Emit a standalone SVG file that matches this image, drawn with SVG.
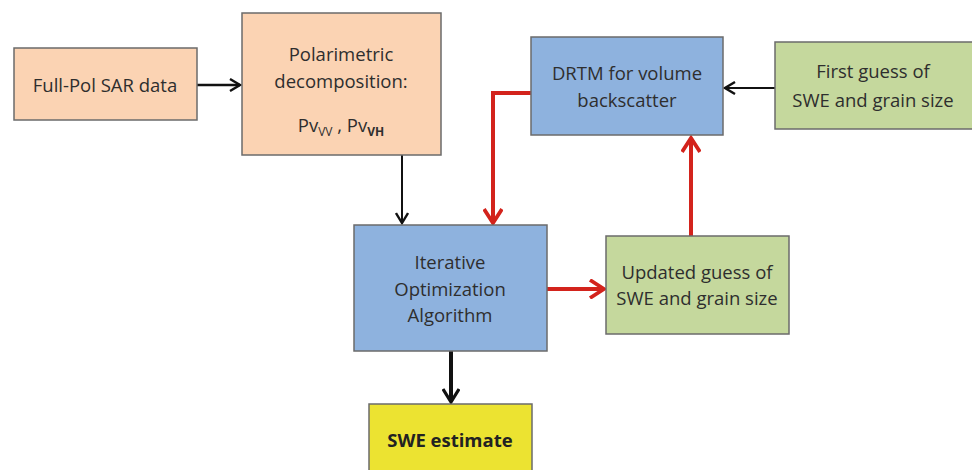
<svg xmlns="http://www.w3.org/2000/svg" width="972" height="470" viewBox="0 0 972 470">
  <style>
    .box { stroke: #6b6b6b; stroke-width: 1.5; }
    .peach { fill: #fbd3b3; }
    .blue { fill: #8eb2de; }
    .green { fill: #c5d89d; }
    .yellow { fill: #ece331; }
    text { font-family: "Open Sans", "Liberation Sans", sans-serif; font-size: 18.5px; fill: #2e2e2e; text-anchor: middle; }
    .bold { font-weight: bold; fill: #222; }
    .sub { font-size: 12px; }
    .blk { stroke: #111; fill: none; }
    .red { stroke: #d3231c; fill: none; stroke-width: 4; }
  </style>
  <defs>
    <marker id="ah-black" viewBox="0 0 14 14" refX="12" refY="7" markerWidth="14" markerHeight="14" markerUnits="userSpaceOnUse" orient="auto">
      <path d="M2,1 L12,7 L2,13" fill="none" stroke="#111" stroke-width="2.4"/>
    </marker>
    <marker id="ah-black-lg" viewBox="0 0 18 18" refX="15" refY="9" markerWidth="18" markerHeight="18" markerUnits="userSpaceOnUse" orient="auto">
      <path d="M2,1 L15,9 L2,17" fill="none" stroke="#111" stroke-width="3.2"/>
    </marker>
    <marker id="ah-red" viewBox="0 0 20 20" refX="17" refY="10" markerWidth="20" markerHeight="20" markerUnits="userSpaceOnUse" orient="auto">
      <path d="M3,1 L17,10 L3,19" fill="none" stroke="#d3231c" stroke-width="3.8"/>
    </marker>
  </defs>

  <rect width="972" height="470" fill="#ffffff"/>

  <g id="connectors">
    <line class="blk" x1="197" y1="85" x2="240" y2="85" stroke-width="2.5" marker-end="url(#ah-black)"/>
    <line class="blk" x1="402" y1="155" x2="402" y2="223" stroke-width="2" marker-end="url(#ah-black)"/>
    <line class="blk" x1="775" y1="88" x2="725" y2="88" stroke-width="2.2" marker-end="url(#ah-black)"/>
    <line class="blk" x1="451" y1="351" x2="451" y2="402" stroke-width="4" marker-end="url(#ah-black-lg)"/>
    <polyline class="red" points="531,93 493,93 493,223" marker-end="url(#ah-red)"/>
    <line class="red" x1="691" y1="236" x2="691" y2="138" marker-end="url(#ah-red)"/>
    <line class="red" x1="547" y1="289" x2="604" y2="289" marker-end="url(#ah-red)"/>
  </g>

  <g id="full-pol-sar">
    <rect class="box peach" x="14" y="48" width="183" height="72"/>
    <text x="105" y="92">Full-Pol SAR data</text>
  </g>

  <g id="polarimetric-decomposition">
    <rect class="box peach" x="242" y="13" width="199" height="142"/>
    <text x="341" y="61">Polarimetric</text>
    <text x="341" y="88">decomposition:</text>
    <text x="341" y="132">Pv<tspan class="sub" dy="4">VV</tspan><tspan dy="-4"> , Pv</tspan><tspan class="sub" dy="4" font-weight="bold">VH</tspan></text>
  </g>

  <g id="drtm">
    <rect class="box blue" x="531" y="37" width="192" height="98"/>
    <text x="627" y="80">DRTM for volume</text>
    <text x="627" y="107">backscatter</text>
  </g>

  <g id="first-guess">
    <rect class="box green" x="775" y="42" width="200" height="87"/>
    <text x="873" y="78">First guess of</text>
    <text x="873" y="107">SWE and grain size</text>
  </g>

  <g id="iterative-optimization">
    <rect class="box blue" x="354" y="225" width="193" height="126"/>
    <text x="450" y="269">Iterative</text>
    <text x="450" y="296">Optimization</text>
    <text x="450" y="322">Algorithm</text>
  </g>

  <g id="updated-guess">
    <rect class="box green" x="606" y="236" width="183" height="98"/>
    <text x="697" y="279">Updated guess of</text>
    <text x="697" y="305">SWE and grain size</text>
  </g>

  <g id="swe-estimate">
    <rect class="box yellow" x="369" y="404" width="163" height="70"/>
    <text class="bold" x="450" y="447">SWE estimate</text>
  </g>
</svg>
